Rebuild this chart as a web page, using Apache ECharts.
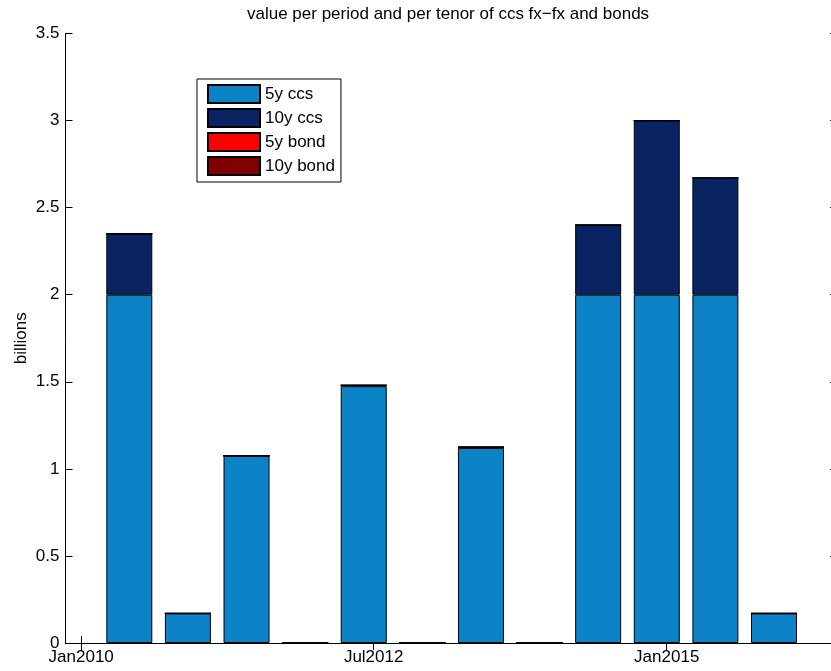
<!DOCTYPE html>
<html lang="en">
<head>
    <meta charset="UTF-8">
    <title>value per period and per tenor</title>
    <style>
        html, body { margin: 0; padding: 0; background: #fff; overflow: hidden; }
        /* a bit wider than the window: the right frame of the axes falls just off-screen */
        #chart { width: 840px; height: 671px; }
    </style>
</head>
<body>
    <div id="chart"></div>
    <script src="https://cdn.jsdelivr.net/npm/echarts@6/dist/echarts.min.js"></script>
    <script>
        // half-year periods
        var periods = ['2010-05-31', '2010-11-30', '2011-05-31', '2011-11-30', '2012-05-31', '2012-11-30',
                       '2013-05-31', '2013-11-30', '2014-05-31', '2014-11-30', '2015-05-31', '2015-11-30'];
        var ccs5y   = [2.0, 0.17, 1.075, 0, 1.475, 0, 1.12, 0, 2.0, 2.0, 2.0, 0.17];
        var ccs10y  = [0.35, 0, 0, 0, 0.005, 0, 0.005, 0, 0.40, 1.0, 0.67, 0];
        var bond5y  = [0, 0, 0, 0, 0, 0, 0, 0, 0, 0, 0, 0];
        var bond10y = [0, 0, 0, 0, 0, 0, 0, 0, 0, 0, 0, 0];
        var tickDates  = ['2010-01-01', '2012-07-01', '2015-01-01'];
        var tickLabels = ['Jan2010', 'Jul2012', 'Jan2015'];

        var font = 'Liberation Sans, Arial, sans-serif';
        function ts(d) { return Date.parse(d + 'T00:00:00Z'); }
        var tickTimes = tickDates.map(ts);

        function barSeries(name, vals, color) {
            return {
                name: name,
                type: 'bar',
                stack: 'all',
                xAxisIndex: 2,
                yAxisIndex: 2,
                barWidth: 46,
                data: vals,
                itemStyle: { color: color, borderColor: '#000', borderWidth: 1 },
                emphasis: { disabled: true }
            };
        }

        var chart = echarts.init(document.getElementById('chart'));
        // date axis (frame, ticks, labels)
        var xBase = {
            type: 'value',
            gridIndex: 0,
            min: ts('2009-11-13'),
            max: ts('2016-06-15'),
            splitLine: { show: false },
            axisLine: { lineStyle: { color: '#000', width: 1 } },
            axisTick: { inside: true, length: 7, customValues: tickTimes, lineStyle: { color: '#000' } }
        };
        var yBase = {
            type: 'value',
            gridIndex: 0,
            min: 0,
            max: 3.5,
            interval: 0.5,
            splitLine: { show: false },
            axisLine: { show: true, lineStyle: { color: '#000', width: 1 } },
            axisTick: { show: true, inside: true, length: 7, lineStyle: { color: '#000' } }
        };

        var option = {
            animation: false,
            backgroundColor: '#fff',
            title: {
                text: 'value per period and per tenor of ccs fx\u2212fx and bonds',
                left: 242,
                top: 1,
                textStyle: { fontFamily: font, fontSize: 17, fontWeight: 'normal', color: '#000' }
            },
            legend: {
                left: 197,
                top: 79,
                orient: 'vertical',
                selectedMode: false,
                icon: 'rect',
                itemWidth: 52,
                itemHeight: 18,
                itemGap: 4,
                padding: [5, 6, 6, 10],
                borderColor: '#000',
                borderWidth: 1,
                textStyle: { fontFamily: font, fontSize: 17, color: '#000' },
                data: ['5y ccs', '10y ccs', '5y bond', '10y bond']
            },
            grid: [
                { left: 65.5, top: 33.5, right: 3, bottom: 28 },
                { left: 100, top: 33.5, right: 36.7, bottom: 28 }
            ],
            xAxis: [
                Object.assign({}, xBase, {
                    position: 'bottom',
                    axisLabel: {
                        customValues: tickTimes,
                        margin: 6,
                        fontFamily: font, fontSize: 17, color: '#000',
                        formatter: function (v) { return tickLabels[tickTimes.indexOf(v)] || ''; }
                    }
                }),
                Object.assign({}, xBase, { position: 'top', axisLabel: { show: false } }),
                {
                    type: 'category', gridIndex: 1, data: periods, show: false
                }
            ],
            yAxis: [
                Object.assign({}, yBase, {
                    position: 'left',
                    name: 'billions',
                    nameLocation: 'middle',
                    nameRotate: 90,
                    nameGap: 36,
                    nameMoveOverlap: false,
                    nameTextStyle: { fontFamily: font, fontSize: 17, color: '#000' },
                    axisLabel: { margin: 6, fontFamily: font, fontSize: 17, color: '#000' }
                }),
                Object.assign({}, yBase, { position: 'right', axisLabel: { show: false } }),
                { type: 'value', gridIndex: 1, min: 0, max: 3.5, show: false }
            ],
            series: [
                barSeries('5y ccs', ccs5y, '#0c83c6'),
                barSeries('10y ccs', ccs10y, '#0a2463'),
                barSeries('5y bond', bond5y, '#ff0000'),
                barSeries('10y bond', bond10y, '#800000')
            ]
        };
        chart.setOption(option);
    </script>
</body>
</html>
